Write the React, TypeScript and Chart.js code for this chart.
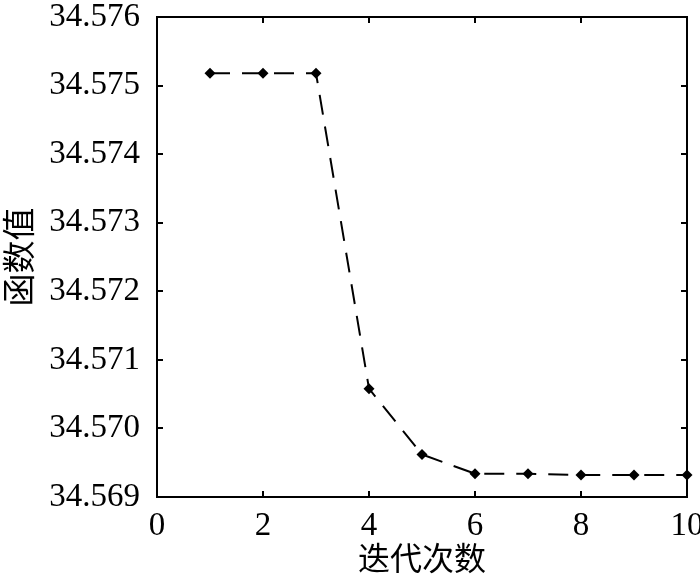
import React, { useEffect, useRef } from "react";
import { Chart, registerables } from "chart.js";

Chart.register(...registerables);

const iterations = [1, 2, 3, 4, 5, 6, 7, 8, 9, 10];
const functionValues = [
  34.57518, 34.57518, 34.57518, 34.57058, 34.56962, 34.56934, 34.56934, 34.56932, 34.56932, 34.56932,
];
const xTickValues = [0, 2, 4, 6, 8, 10];
const yTickValues = [34.569, 34.57, 34.571, 34.572, 34.573, 34.574, 34.575, 34.576];
const xTitle = "迭代次数";
const yTitle = "函数值";

const SERIF = "'Liberation Serif', 'Times New Roman', serif";
const CJK = "'Noto Sans CJK SC', 'Noto Sans', sans-serif";

const frameTicks = {
  id: "frameTicks",
  beforeDatasetsDraw(chart: any) {
    const { ctx, chartArea, scales } = chart;
    const { left, right, top, bottom } = chartArea;
    const x = scales.x;
    const y = scales.y;
    const L = 6;
    ctx.save();
    ctx.strokeStyle = "#000";
    ctx.lineWidth = 2;
    ctx.strokeRect(left, top, right - left, bottom - top);
    ctx.beginPath();
    x.ticks.forEach((t: any) => {
      const px = Math.round(x.getPixelForValue(t.value));
      ctx.moveTo(px, bottom);
      ctx.lineTo(px, bottom - L);
      ctx.moveTo(px, top);
      ctx.lineTo(px, top + L);
    });
    y.ticks.forEach((t: any) => {
      const py = Math.round(y.getPixelForValue(t.value));
      ctx.moveTo(left, py);
      ctx.lineTo(left + L, py);
      ctx.moveTo(right, py);
      ctx.lineTo(right - L, py);
    });
    ctx.stroke();
    ctx.restore();
  },
};

export default function App() {
  const canvasRef = useRef<HTMLCanvasElement | null>(null);

  useEffect(() => {
    const canvas = canvasRef.current;
    if (!canvas) return;
    const chart = new Chart(canvas, {
      type: "line",
      data: {
        datasets: [
          {
            data: iterations.map((it, i) => ({ x: it, y: functionValues[i] })),
            borderColor: "#000",
            borderWidth: 2,
            borderDash: [20, 12],
            tension: 0,
            fill: false,
            pointStyle: "rectRot",
            pointRadius: 5.5,
            pointBackgroundColor: "#000",
            pointBorderColor: "#000",
            pointBorderWidth: 0,
            clip: false,
          },
        ],
      },
      options: {
        responsive: false,
        animation: false,
        events: [],
        layout: { padding: { left: 0, right: 13, top: 17, bottom: 0 } },
        plugins: {
          legend: { display: false },
          tooltip: { enabled: false },
        },
        scales: {
          x: {
            type: "linear",
            min: 0,
            max: 10,
            grid: { display: false },
            border: { display: false },
            afterBuildTicks: (s: any) => {
              s.ticks = xTickValues.map((v) => ({ value: v }));
            },
            afterFit: (s: any) => {
              s.height = 77;
              s.paddingLeft = 0;
              s.paddingRight = 0;
            },
            ticks: {
              color: "#000",
              font: { family: SERIF, size: 33, lineHeight: 1.2 },
              padding: 2,
              maxRotation: 0,
              autoSkip: false,
              callback: (v: any) => String(v),
            },
            title: {
              display: true,
              text: xTitle,
              color: "#000",
              font: { family: CJK, size: 32, lineHeight: 1.0 },
              padding: { top: 0, bottom: 0 },
            },
          },
          y: {
            type: "linear",
            min: 34.569,
            max: 34.576,
            grid: { display: false },
            border: { display: false },
            afterBuildTicks: (s: any) => {
              s.ticks = yTickValues.map((v) => ({ value: v }));
            },
            afterFit: (s: any) => {
              s.width = 157;
              s.paddingTop = 0;
              s.paddingBottom = 0;
            },
            ticks: {
              color: "#000",
              font: { family: SERIF, size: 33, lineHeight: 1.2 },
              padding: 9,
              autoSkip: false,
              callback: (v: any) => Number(v).toFixed(3),
            },
            title: {
              display: true,
              text: yTitle,
              color: "#000",
              font: { family: CJK, size: 33, lineHeight: 1.1 },
              padding: { top: 0, bottom: 0 },
            },
          },
        },
      },
      plugins: [frameTicks],
    });
    return () => chart.destroy();
  }, []);

  return (
    <div
      style={{
        position: "fixed",
        left: 0,
        top: 0,
        width: 700,
        height: 574,
        overflow: "hidden",
        background: "#fff",
      }}
    >
      <canvas ref={canvasRef} width={700} height={574} style={{ width: 700, height: 574, display: "block" }} />
    </div>
  );
}
